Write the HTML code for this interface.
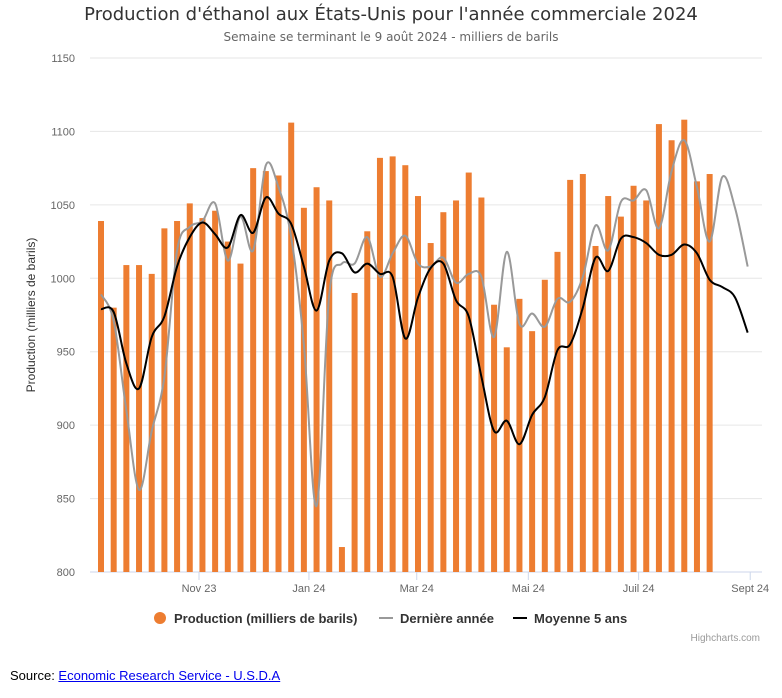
<!DOCTYPE html>
<html><head><meta charset="utf-8"><style>
body{margin:0;background:#fff;font-family:"Liberation Sans",sans-serif}
#wrap{position:relative;width:782px;height:698px}
.src{position:absolute;left:10px;top:668px;font-size:13px;color:#000}
.src a{color:#0000ee;text-decoration:underline}
</style></head><body>
<div id="wrap">
<svg id="chart" width="782" height="655" style="position:absolute;left:0;top:0">
<text x="391" y="20" text-anchor="middle" font-size="18" fill="#333" font-family="DejaVu Sans, sans-serif">Production d'éthanol aux États-Unis pour l'année commerciale 2024</text>
<text x="391" y="41" text-anchor="middle" font-size="12" fill="#666" font-family="DejaVu Sans, sans-serif">Semaine se terminant le 9 août 2024 - milliers de barils</text>
<text transform="translate(35,315) rotate(-90)" text-anchor="middle" font-size="12" fill="#333">Production (milliers de barils)</text>
<g id="grid"></g><g id="bars"></g><g id="lines"></g><g id="xaxis"></g>
<g>
<g><circle cx="160" cy="618" r="6" fill="#ed7d31"/><text x="174" y="623" font-size="13" font-weight="bold" fill="#333">Production (milliers de barils)</text></g>
<g><line x1="379" y1="618" x2="393" y2="618" stroke="#999" stroke-width="2"/><text x="400" y="623" font-size="13" font-weight="bold" fill="#333">Dernière année</text></g>
<g><line x1="513" y1="618" x2="527" y2="618" stroke="#000" stroke-width="2"/><text x="534" y="623" font-size="13" font-weight="bold" fill="#333">Moyenne 5 ans</text></g>
</g>
<text x="760" y="641" text-anchor="end" font-size="10" fill="#999">Highcharts.com</text>
</svg>
<div class="src">Source: <a>Economic Research Service - U.S.D.A</a></div>
</div>
<script>
const production=[1039,980,1009,1009,1003,1034,1039,1051,1041,1046,1025,1010,1075,1073,1070,1106,1048,1062,1053,817,990,1032,1082,1083,1077,1056,1024,1045,1053,1072,1055,982,953,986,964,999,1018,1067,1071,1022,1056,1042,1063,1053,1105,1094,1108,1066,1071];
const lastYear=[989,971,910,856,896,933,1019,1035,1039,1051,1012,1042,1019,1077,1062,1028,955,845,989,1010,1010,1028,1001,1017,1029,1010,1008,1014,997,1003,1001,960,1018,969,976,967,986,984,1001,1036,1019,1052,1053,1060,1034,1073,1094,1062,1025,1069,1048,1008];
const avg5=[979,977,942,925,960,974,1008,1028,1038,1030,1021,1043,1031,1055,1044,1037,1008,978,1012,1017,1004,1010,1003,1001,959,987,1007,1010,985,974,933,896,903,887,907,919,951,955,980,1014,1005,1027,1028,1024,1016,1016,1023,1017,999,994,987,963];
const yTicks=[800,850,900,950,1000,1050,1100,1150];
const xTickLabels=["Nov 23","Jan 24","Mar 24","Mai 24","Juil 24","Sept 24"];
const xTickPos=[7.73,16.4,24.9,33.7,42.4,51.2];
const NS="http://www.w3.org/2000/svg";
const L=90,R=762,T=58,B=572,x0=101,step=12.68;
const y=v=>B-(v-800)*(B-T)/350;
const x=i=>x0+i*step;
function mk(t,a,p){const e=document.createElementNS(NS,t);for(const k in a)e.setAttribute(k,a[k]);p.appendChild(e);return e;}
const grid=document.getElementById('grid');
yTicks.forEach(v=>{
 const l=mk('line',{x1:L,x2:R,y1:y(v),y2:y(v),stroke:v===800?'#ccd6eb':'#e6e6e6'},grid);
 
 
 const t=mk('text',{x:75,y:y(v)+4,'text-anchor':'end','font-size':11,fill:'#666'},grid);
 t.textContent=v;
 
 
});
const bars=document.getElementById('bars');
production.forEach((v,i)=>{
 const r=mk('rect',{x:x(i)-3,y:y(v),width:6,height:B-y(v),fill:'#ed7d31'},bars);
 
 
});
function path(arr){
 const p=arr.map((v,i)=>[x(i),y(v)]);let d='M'+p[0][0]+','+p[0][1];
 for(let i=0;i<p.length-1;i++){const a=p[Math.max(0,i-1)],b=p[i],c=p[i+1],e=p[Math.min(p.length-1,i+2)];
  d+=` C${b[0]+(c[0]-a[0])/6},${b[1]+(c[1]-a[1])/6} ${c[0]-(e[0]-b[0])/6},${c[1]-(e[1]-b[1])/6} ${c[0]},${c[1]}`;}
 return d;}
const lines=document.getElementById('lines');
const g1=mk('path',{d:path(lastYear),fill:'none',stroke:'#999','stroke-width':2},lines);


const g2=mk('path',{d:path(avg5),fill:'none',stroke:'#000','stroke-width':2},lines);


const xa=document.getElementById('xaxis');
xTickLabels.forEach((s,i)=>{
 const px=x(xTickPos[i]);
 const tk=mk('line',{x1:px,x2:px,y1:B,y2:B+8,stroke:'#ccd6eb'},xa);
 
 
 const t=mk('text',{x:px,y:B+20,'text-anchor':'middle','font-size':11,fill:'#666'},xa);
 t.textContent=s;
 
 
});
</script>
</body></html>
